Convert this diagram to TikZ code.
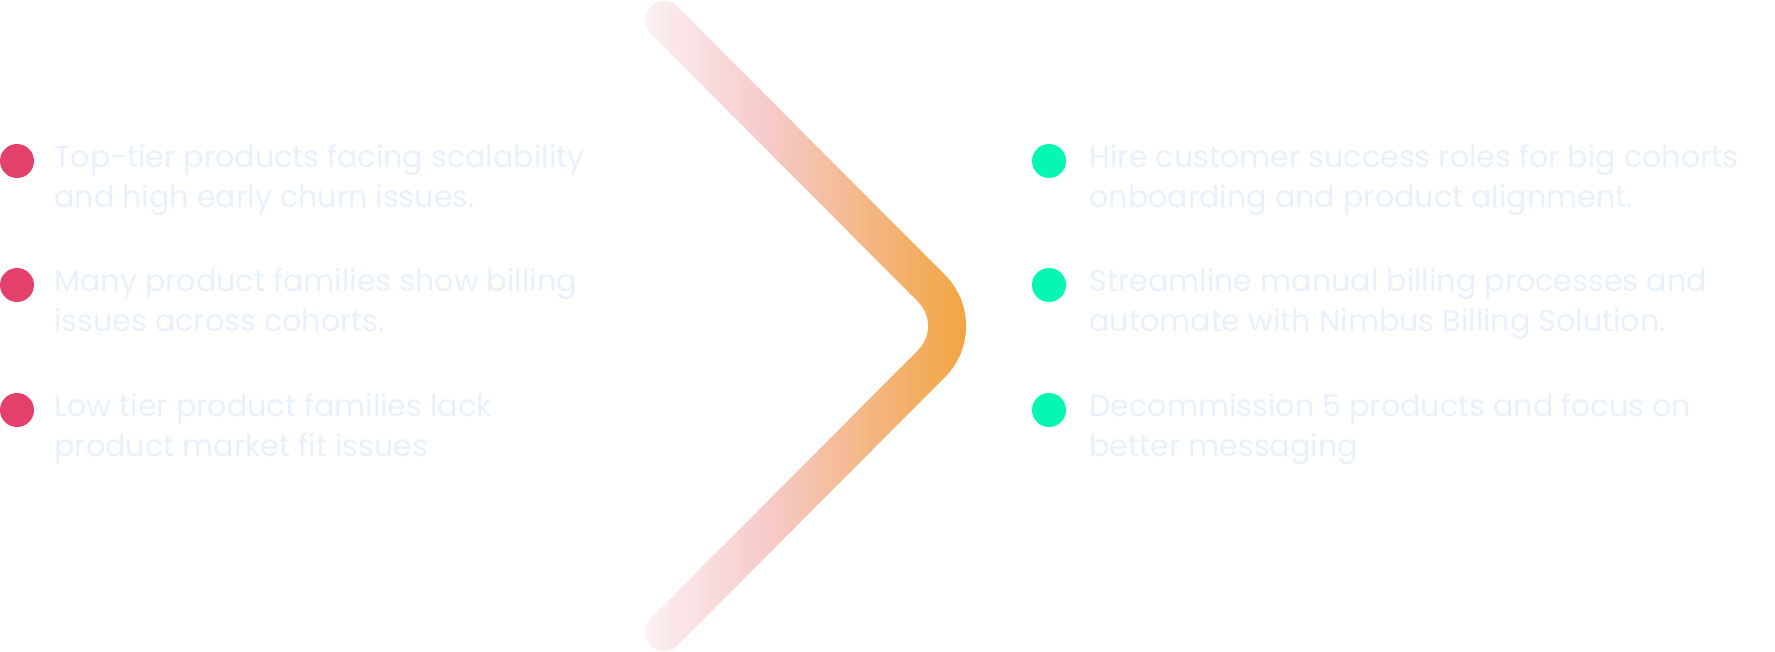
\documentclass[tikz,border=0pt]{standalone}
\usepackage{fontspec}
\setmainfont{Poppins}
\usetikzlibrary{calc}

\definecolor{issuered}{HTML}{E3406B}
\definecolor{actiongreen}{HTML}{05F7B3}
\definecolor{itemtext}{HTML}{E8F1FB}
\definecolor{chevleft}{HTML}{FDF1F3}
\definecolor{chevmid}{HTML}{F6CACB}
\definecolor{chevright}{HTML}{F2A541}

\begin{document}
\begin{tikzpicture}[x=.5pt, y=-.5pt,
  dot/.style={circle, minimum size=17pt, inner sep=0pt},
  item/.style={anchor=base west, align=left, inner sep=0pt, text=itemtext, font=\fontsize{15.1}{20}\selectfont},
  chevron/.style={line width=19pt, line cap=round, rounded corners=26.5pt}]
\useasboundingbox (0,0) rectangle (1775,652);

\coordinate (top) at (664,20);
\coordinate (tip) at (969,326);
\coordinate (bot) at (664,632);

\foreach \i in {0,...,35} {
  \pgfmathsetmacro{\xa}{630+10*\i}
  \pgfmathsetmacro{\t}{max(0,min(1,(\xa+5-645)/321))}
  \pgfmathsetmacro{\pa}{min(100,100*\t/0.38)}
  \pgfmathsetmacro{\pb}{max(0,100*(\t-0.38)/0.62)}
  \colorlet{stripcol}{chevmid!\pa!chevleft}
  \colorlet{stripcol}{chevright!\pb!stripcol}
  \begin{scope}
    \clip (\xa-.6,0) rectangle (\xa+10.6,652);
    \draw[chevron, draw=stripcol] (top) -- (tip) -- (bot);
  \end{scope}
}

\foreach \y/\txt [count=\n] in {161/{Top-tier products facing scalability\\and high early churn issues.},
  285/{Many product families show billing\\issues across cohorts.},
  410/{Low tier product families lack\\product market fit issues}}
{
  \node[dot, fill=issuered] (ldot\n) at (17,\y) {};
  \node[item] (ltxt\n) at (54,\y+46) {\txt};
}

\foreach \y/\txt [count=\n] in {161/{Hire customer success roles for big cohorts\\onboarding and product alignment.},
  285/{Streamline manual billing processes and\\automate with Nimbus Billing Solution.},
  410/{Decommission 5 products and focus on\\better messaging}}
{
  \node[dot, fill=actiongreen] (rdot\n) at (1049,\y) {};
  \node[item] (rtxt\n) at (1089,\y+46) {\txt};
}

\end{tikzpicture}
\end{document}
